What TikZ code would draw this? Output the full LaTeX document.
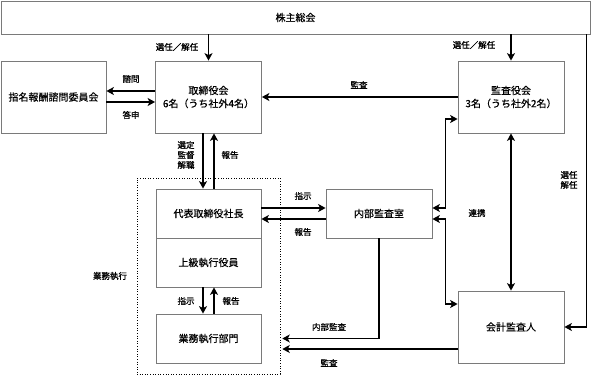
\documentclass[tikz,border=0pt]{standalone}
\usepackage{fontspec}
\setmainfont{Noto Sans CJK JP}[FakeBold=0.4]
\newfontfamily\etifont{Noto Sans CJK JP}[FakeBold=0.9]
\usetikzlibrary{arrows.meta}

\begin{document}
\begin{tikzpicture}[x=1pt,y=-1pt,
  box/.style={draw=boxGray, line width=0.8pt, fill=white, inner sep=0pt, align=center,
    font=\fontsize{10}{13}\selectfont, minimum width=106pt},
  freccia/.style={line width=1.6pt, -{Stealth[length=7.5pt,width=8pt,inset=2pt]}},
  doppia/.style={line width=1.6pt, {Stealth[length=7.5pt,width=8pt,inset=2pt]}-{Stealth[length=7.5pt,width=8pt,inset=2pt]}},
  etic/.style={font=\etifont\fontsize{8.5}{10}\selectfont, inner sep=0pt, align=center}]

% Colori
\definecolor{boxGray}{HTML}{7A7A7A}

\useasboundingbox (0,0) rectangle (591,375);

% Riquadro tratteggiato
\node[draw, dotted, line width=0.6pt, minimum width=143pt, minimum height=196pt, inner sep=0pt] (esecuzione) at (208.5,276) {};
\node[etic] (lEsecuzione) at (110,276) {業務執行};

% Organi
\node[box, minimum width=589pt, minimum height=33pt] (soci) at (295.5,17.5) {株主総会};
\node[box, minimum height=72pt] (cda) at (208.5,97) {取締役会\\6名（うち社外4名）};
\node[box, minimum width=105pt, minimum height=72pt] (comitato) at (53.5,97) {指名報酬諮問委員会};
\node[box, minimum height=72pt] (collegio) at (511,97) {監査役会\\3名（うち社外2名）};
\node[box, minimum width=105pt, minimum height=49pt] (presidente) at (208.5,213.5) {代表取締役社長};
\node[box, minimum width=105pt, minimum height=49pt] (dirigenti) at (208.5,262.5) {上級執行役員};
\node[box, minimum width=105pt, minimum height=49pt] (reparti) at (208.5,338.5) {業務執行部門};
\node[box, minimum height=49pt] (audit) at (379,213.5) {内部監査室};
\node[box, minimum height=72pt] (revisore) at (511,327) {会計監査人};

% Assemblea
\draw[freccia] (soci.south -| cda.north) -- (cda.north);
\node[etic] (lNominaCda) at (177,47) {選任／解任};
\draw[freccia] (soci.south -| collegio.north) -- (collegio.north);
\node[etic] (lNominaCs) at (474,45) {選任／解任};
\draw[freccia] ([xshift=-4pt]soci.south east) |- (revisore.east);
\node[etic] (lNominaRev) at (569,180) {選任\\解任};

% Comitato
\draw[freccia] ([yshift=6pt]cda.west) -- ([yshift=6pt]comitato.east);
\node[etic] (lConsulta) at (131,79) {諮問};
\draw[freccia] ([yshift=-5pt]comitato.east) -- ([yshift=-5pt]cda.west);
\node[etic] (lRisposta) at (131,115) {答申};

% Collegio sindacale
\draw[freccia] (collegio.west) -- (cda.east);
\node[etic] (lAuditCda) at (359,85) {監査};
\draw[doppia] ([yshift=5.5pt]audit.east) -- ++(13,0) |- ([yshift=-22pt]collegio.west);
\draw[doppia] ([yshift=-5.5pt]audit.east) -- ++(13,0) |- ([yshift=23pt]revisore.west);
\draw[doppia] (collegio.south) -- (revisore.north);
\node[etic] (lCoop) at (477,213) {連携};

% CdA e presidente
\draw[freccia] ([xshift=-5.5pt]cda.south) -- ([xshift=-5.5pt]presidente.north);
\node[etic] (lNomina) at (186,155) {選定\\監督\\解職};
\draw[freccia] ([xshift=5.5pt]presidente.north) -- ([xshift=5.5pt]cda.south);
\node[etic] (lReport) at (230,155) {報告};

% Presidente e audit interno
\draw[freccia] ([yshift=5.5pt]presidente.east) -- ([yshift=5.5pt]audit.west);
\node[etic] (lIstr) at (303,196) {指示};
\draw[freccia] ([yshift=-5.5pt]audit.west) -- ([yshift=-5.5pt]presidente.east);
\node[etic] (lReportIa) at (303,232) {報告};

% Dirigenti e reparti
\draw[freccia] ([xshift=-5.5pt]dirigenti.south) -- ([xshift=-5.5pt]reparti.north);
\node[etic] (lIstrRep) at (186,301) {指示};
\draw[freccia] ([xshift=5.5pt]reparti.north) -- ([xshift=5.5pt]dirigenti.south);
\node[etic] (lReportRep) at (231,301) {報告};

% Audit su esecuzione
\draw[freccia] (audit.south) |- ([xshift=2pt]esecuzione.east |- reparti.center);
\node[etic] (lAuditInt) at (329,327) {内部監査};
\draw[freccia] ([yshift=-22pt]revisore.west) -- ([yshift=-22pt,xshift=2pt]esecuzione.east |- revisore.west);
\node[etic] (lAuditRev) at (329,363) {監査};

\end{tikzpicture}
\end{document}
